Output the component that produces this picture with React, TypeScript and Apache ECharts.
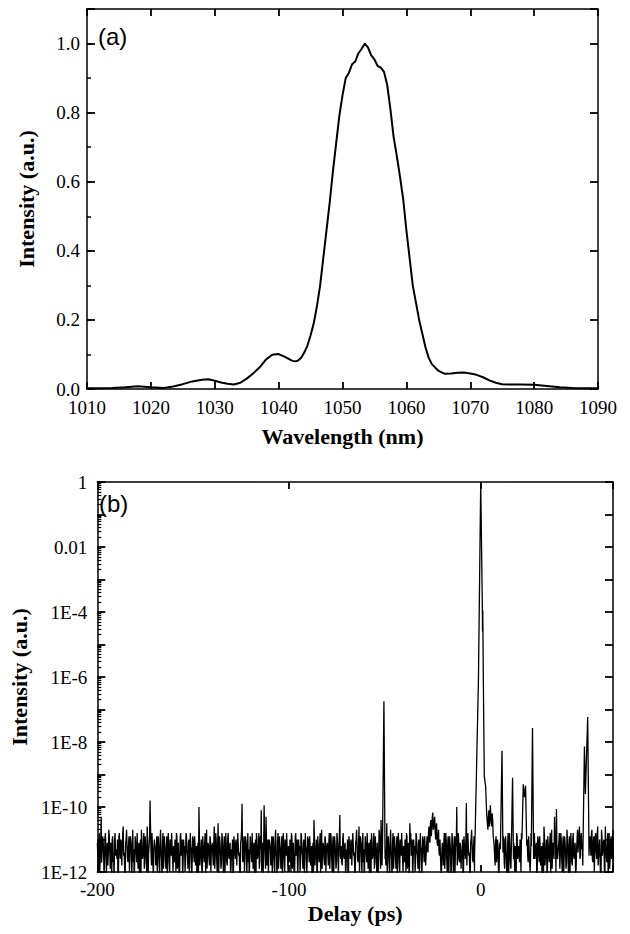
import React, { useEffect, useRef } from 'react';
import * as echarts from 'echarts';

// ---------- Panel (a): spectrum ----------
const wavelengths = [
  1010, 1012, 1014, 1016, 1018, 1020, 1022, 1023.5, 1025, 1026.5, 1028, 1029, 1030, 1031, 1032, 1033, 1034, 1035,
  1036, 1037, 1038, 1039, 1040, 1041, 1042, 1042.5, 1043, 1043.5, 1044, 1044.5, 1045, 1045.5, 1046, 1046.5, 1047,
  1047.5, 1048, 1048.5, 1049, 1049.5, 1050, 1050.5, 1051, 1051.5, 1052, 1052.5, 1053, 1053.5, 1054, 1054.5, 1055,
  1055.5, 1056, 1056.5, 1057, 1057.5, 1058, 1058.5, 1059, 1059.5, 1060, 1060.5, 1061, 1061.5, 1062, 1062.5, 1063,
  1063.5, 1064, 1065, 1066, 1067, 1068, 1069, 1070, 1071, 1072, 1073, 1074, 1075, 1076, 1078, 1080, 1082, 1084,
  1086, 1088, 1090,
];
const spectrum = [
  0.002, 0.002, 0.003, 0.005, 0.008, 0.005, 0.003, 0.007, 0.014, 0.022, 0.027, 0.028, 0.024, 0.019, 0.015, 0.013,
  0.018, 0.03, 0.045, 0.062, 0.085, 0.099, 0.101, 0.093, 0.083, 0.08, 0.082, 0.09, 0.105, 0.125, 0.155, 0.19, 0.24,
  0.3, 0.38, 0.46, 0.54, 0.63, 0.71, 0.79, 0.85, 0.9, 0.915, 0.94, 0.948, 0.972, 0.985, 1.0, 0.988, 0.966, 0.954,
  0.935, 0.93, 0.918, 0.88, 0.81, 0.73, 0.675, 0.615, 0.55, 0.46, 0.38, 0.3, 0.25, 0.2, 0.16, 0.12, 0.09, 0.072,
  0.053, 0.044, 0.045, 0.047, 0.048, 0.045, 0.041, 0.034, 0.025, 0.018, 0.014, 0.013, 0.013, 0.012, 0.009, 0.005,
  0.003, 0.002, 0.002,
];
const waveTickLabels = ['1010', '1020', '1030', '1040', '1050', '1060', '1070', '1080', '1090'];

// ---------- Panel (b): autocorrelation trace (log10 of intensity) ----------
const delayStart = -200;
const delayStep = 0.5;
// samples at -200, -199.5, ... (20 per row = 10 ps)
const noiseRows: number[][] = [
  [-11.1, -11.9, -10.8, -11.6, -10.3, -11.4, -11.0, -12.2, -10.9, -11.5, -11.2, -11.8, -10.7, -11.4, -11.1, -12.3, -10.9, -11.6, -11.0, -11.5],
  [-11.3, -11.0, -12.1, -10.8, -11.6, -11.1, -11.8, -10.6, -11.4, -12.4, -11.0, -11.2, -11.7, -10.9, -11.5, -11.1, -12.2, -10.7, -11.3, -11.6],
  [-10.9, -11.7, -11.2, -11.4, -12.5, -11.0, -10.7, -11.6, -11.3, -11.9, -10.9, -11.5, -10.6, -12.1, -11.2, -9.8, -11.4, -10.8, -11.8, -11.3],
  [-11.0, -11.8, -10.9, -11.5, -11.2, -12.2, -10.7, -11.6, -11.1, -11.9, -10.9, -11.4, -11.3, -12.4, -10.8, -11.7, -11.0, -11.5, -11.2, -12.0],
  [-11.2, -11.0, -12.0, -10.9, -11.6, -11.1, -11.8, -10.8, -11.4, -12.2, -11.0, -11.2, -11.7, -10.9, -11.5, -11.1, -12.1, -10.8, -11.3, -11.6],
  [-11.0, -11.7, -11.2, -11.5, -12.6, -11.1, -10.0, -11.8, -11.3, -11.9, -10.9, -11.5, -11.1, -12.1, -10.7, -11.4, -11.2, -11.8, -11.0, -11.3],
  [-11.1, -11.8, -10.6, -11.5, -11.0, -12.0, -10.5, -11.6, -11.1, -11.9, -10.8, -11.4, -11.3, -12.3, -10.8, -11.7, -11.0, -11.5, -11.2, -12.1],
  [-11.3, -11.0, -12.1, -10.9, -11.6, -11.1, -11.8, -10.8, -11.4, -12.4, -11.0, -9.9, -11.7, -10.9, -11.5, -11.1, -12.2, -10.8, -11.3, -11.6],
  [-10.9, -11.7, -11.2, -11.4, -12.3, -11.0, -10.8, -11.6, -11.3, -11.9, -10.9, -10.1, -11.5, -12.1, -9.95, -11.4, -10.3, -11.8, -11.0, -11.3],
  [-11.1, -11.8, -10.9, -11.5, -11.2, -12.2, -10.7, -11.6, -11.1, -11.9, -10.9, -11.4, -11.3, -12.4, -10.8, -11.7, -11.0, -11.5, -11.2, -12.0],
  [-11.2, -11.0, -12.0, -10.9, -11.6, -11.1, -11.8, -10.8, -11.4, -12.2, -11.0, -11.2, -11.7, -10.9, -11.5, -11.1, -12.1, -10.8, -11.3, -11.6],
  [-11.0, -11.7, -11.2, -11.5, -12.3, -11.1, -10.4, -11.8, -11.3, -11.9, -10.9, -11.5, -11.1, -12.1, -10.7, -11.4, -11.2, -11.8, -11.0, -11.3],
  [-11.1, -11.8, -10.8, -11.5, -11.0, -12.0, -10.9, -11.6, -11.1, -11.9, -10.8, -11.4, -11.3, -10.25, -11.6, -11.7, -11.0, -11.5, -11.2, -12.1],
  [-11.3, -11.0, -12.1, -10.9, -11.6, -11.1, -11.8, -10.8, -11.4, -12.4, -11.0, -11.2, -11.7, -10.6, -11.5, -11.1, -12.2, -10.8, -11.3, -11.6],
  [-10.9, -11.7, -11.2, -11.4, -12.3, -11.0, -10.8, -11.6, -11.3, -11.9, -10.9, -11.5, -11.1, -12.1, -10.7, -11.4, -10.4, -11.8, -11.0, -11.3],
  [-11.1, -11.8, -10.5, -11.5, -11.2, -12.2, -10.7, -11.6, -11.1, -11.9, -10.9, -11.4, -11.3, -12.4, -10.8, -11.7, -11.0, -11.5, -11.2, -12.0],
  [-11.2, -11.0, -12.0, -10.9, -11.6, -11.1, -10.5, -10.8, -11.4, -12.2, -11.0, -11.2, -11.7, -10.9, -11.5, -11.1, -12.1, -10.8, -11.3, -11.6],
  [-11.0, -11.7, -11.2, -11.5, -10.9, -11.4, -10.6, -11.1, -10.4, -10.9, -10.17, -10.6, -10.3, -11.0, -10.5, -11.2, -10.7, -11.5, -11.0, -12.1],
  [-11.1, -11.8, -10.8, -11.5, -11.0, -12.0, -10.9, -11.6, -11.1, -12.4, -10.8, -11.4, -11.3, -12.3, -10.9, -10.0, -11.6, -11.0, -11.7, -11.2],
  [-11.3, -11.0, -12.1, -10.9, -11.6, -9.88, -11.8, -10.8, -11.4, -12.4, -11.0, -11.2, -11.7, -10.9, -11.5, -11.1, -12.2, -10.8, -11.3, -11.6],
  [-11.0, -11.0, -11.0, -11.0, -11.0, -11.0, -11.0, -10.8, -10.3, -10.6, -9.95, -10.4, -10.2, -10.9, -11.2, -11.8, -10.9, -11.5, -11.2, -12.2],
  [-11.1, -11.5, -11.5, -11.0, -11.0, -11.9, -10.9, -11.4, -11.3, -12.4, -10.8, -11.7, -11.2, -11.5, -11.5, -11.5, -11.2, -12.0, -10.9, -11.6],
  [-11.2, -11.0, -12.0, -11.0, -11.0, -11.0, -11.0, -11.0, -11.0, -11.5, -10.9, -11.3, -11.6, -11.0, -11.0, -11.0, -10.8, -11.4, -11.1, -11.9],
  [-11.0, -11.7, -11.2, -11.5, -12.3, -11.1, -10.6, -11.8, -11.3, -11.9, -10.9, -11.5, -11.1, -12.1, -10.7, -11.4, -11.2, -10.3, -11.0, -10.06],
  [-11.6, -11.2, -10.8, -11.5, -11.0, -12.0, -10.9, -11.6, -11.1, -11.9, -10.7, -11.4, -11.3, -12.3, -10.8, -11.7, -11.0, -11.5, -11.2, -12.1],
  [-11.3, -10.7, -11.4, -10.6, -11.5, -10.8, -11.2, -11.0, -11.0, -11.0, -11.0, -11.0, -11.0, -11.0, -10.9, -11.5, -10.7, -11.7, -10.9, -11.4],
  [-10.8, -11.6, -10.6, -11.8, -11.0, -12.2, -10.7, -11.5, -11.1, -11.9, -10.6, -11.4, -11.2, -12.3, -10.8, -11.6, -10.9, -11.5, -10.7, -11.3],
];
// samples in between, at -199.75, -199.25, ...
const noiseMidRows: number[][] = [
  [-11.5, -11.2, -12.0, -11.0, -11.7, -10.9, -11.3, -11.6, -10.8, -12.1, -11.1, -11.4, -10.9, -11.9, -11.2, -11.0, -11.7, -12.2, -10.8, -11.4],
  [-11.6, -12.2, -10.9, -11.4, -11.0, -11.8, -10.8, -11.5, -11.9, -11.1, -10.7, -11.6, -11.2, -12.0, -10.9, -11.4, -11.1, -11.7, -12.3, -10.9],
  [-11.4, -10.8, -11.9, -11.1, -11.6, -12.2, -11.0, -11.5, -10.8, -11.7, -11.3, -12.0, -11.1, -11.4, -10.9, -10.6, -11.8, -11.2, -12.1, -11.0],
  [-11.3, -11.5, -12.1, -10.9, -11.7, -11.0, -11.4, -12.3, -10.8, -11.6, -11.2, -11.9, -10.9, -11.5, -11.1, -12.0, -11.3, -10.8, -11.6, -11.2],
  [-11.7, -11.3, -10.8, -11.9, -11.1, -12.4, -10.9, -11.5, -11.0, -11.7, -11.3, -12.0, -10.8, -11.4, -11.9, -11.0, -11.6, -11.2, -12.2, -10.9],
  [-11.4, -10.9, -11.8, -11.2, -11.6, -12.1, -10.9, -11.5, -11.0, -12.3, -11.2, -11.7, -10.8, -11.4, -11.9, -11.1, -11.6, -10.9, -12.0, -11.3],
  [-11.5, -11.1, -11.9, -10.8, -11.6, -11.2, -12.2, -10.9, -11.4, -11.7, -11.0, -12.1, -10.9, -11.5, -11.2, -11.8, -10.8, -11.6, -11.1, -11.9],
  [-11.6, -12.2, -10.9, -11.4, -11.0, -11.8, -10.8, -11.5, -11.9, -11.1, -10.7, -11.6, -11.2, -12.0, -10.9, -11.4, -11.1, -11.7, -12.3, -10.9],
  [-11.4, -10.8, -11.9, -11.1, -11.6, -12.2, -11.0, -11.5, -10.8, -11.7, -11.3, -12.0, -11.1, -11.4, -10.9, -11.9, -11.0, -11.2, -12.1, -11.0],
  [-11.3, -11.5, -12.1, -10.9, -11.7, -11.0, -11.4, -12.3, -10.8, -11.6, -11.2, -11.9, -10.9, -11.5, -11.1, -12.0, -11.3, -10.8, -11.6, -11.2],
  [-11.7, -11.3, -10.8, -11.9, -11.1, -12.4, -10.9, -11.5, -11.0, -11.7, -11.3, -12.0, -10.8, -11.4, -11.9, -11.0, -11.6, -11.2, -12.2, -10.9],
  [-11.4, -10.9, -11.8, -11.2, -11.6, -12.1, -10.9, -11.5, -11.0, -12.3, -11.2, -11.7, -10.8, -11.4, -11.9, -11.1, -11.6, -10.9, -12.0, -11.3],
  [-11.5, -11.1, -11.9, -10.8, -11.6, -11.2, -12.2, -10.9, -11.4, -11.7, -11.0, -12.1, -10.9, -11.5, -11.2, -11.8, -10.8, -11.6, -11.1, -11.9],
  [-11.6, -12.2, -10.9, -11.4, -11.0, -11.8, -10.8, -11.5, -11.9, -11.1, -10.7, -11.6, -11.2, -12.0, -10.9, -11.4, -11.1, -11.7, -12.3, -10.9],
  [-11.4, -10.8, -11.9, -11.1, -11.6, -12.2, -11.0, -11.5, -10.8, -11.7, -11.3, -12.0, -11.1, -11.4, -10.9, -11.9, -11.0, -11.2, -12.1, -11.0],
  [-11.3, -11.5, -12.1, -10.9, -11.7, -11.0, -11.4, -12.3, -10.8, -11.6, -11.2, -11.9, -10.9, -11.5, -11.1, -12.0, -11.3, -10.8, -11.6, -11.2],
  [-11.7, -11.3, -10.8, -11.9, -11.1, -12.4, -10.9, -11.5, -11.0, -11.7, -11.3, -12.0, -10.8, -11.4, -11.9, -11.0, -11.6, -11.2, -12.2, -10.9],
  [-11.4, -10.9, -11.8, -11.2, -11.3, -10.8, -11.0, -10.5, -10.9, -10.3, -10.7, -10.4, -10.8, -10.6, -11.1, -10.9, -11.4, -11.0, -12.0, -11.3],
  [-11.5, -11.1, -11.9, -10.8, -11.6, -11.2, -12.2, -10.9, -11.4, -11.7, -11.0, -12.1, -10.9, -11.5, -11.2, -11.8, -10.8, -11.6, -11.1, -11.9],
  [-11.6, -12.2, -10.9, -11.4, -11.0, -11.8, -10.8, -11.5, -11.9, -11.1, -10.7, -11.6, -11.2, -12.0, -10.9, -11.4, -11.1, -11.7, -12.3, -10.9],
  [-11.0, -11.0, -11.0, -11.0, -11.0, -11.0, -11.0, -10.7, -10.1, -10.5, -10.2, -10.6, -10.4, -11.0, -11.5, -11.1, -11.7, -11.0, -12.0, -11.3],
  [-11.3, -11.5, -12.1, -10.9, -11.7, -11.0, -11.4, -12.3, -10.8, -11.6, -11.2, -11.9, -10.9, -11.5, -11.1, -12.0, -11.3, -10.8, -11.6, -11.2],
  [-11.7, -11.3, -10.8, -11.9, -11.1, -12.4, -10.9, -11.5, -11.0, -11.7, -11.3, -12.0, -10.8, -11.4, -11.9, -11.0, -11.6, -11.2, -12.2, -10.9],
  [-11.4, -10.9, -11.8, -11.2, -11.6, -12.1, -10.9, -11.5, -11.0, -12.3, -11.2, -11.7, -10.8, -11.4, -11.9, -11.1, -11.6, -10.9, -12.0, -11.3],
  [-11.5, -11.1, -11.9, -10.8, -11.6, -11.2, -12.2, -10.9, -11.4, -11.7, -11.0, -12.1, -10.9, -11.5, -11.2, -11.8, -10.8, -11.6, -11.1, -11.9],
  [-11.0, -11.4, -10.8, -11.6, -10.9, -11.3, -11.8, -11.0, -11.0, -11.0, -11.0, -11.0, -11.0, -11.0, -11.2, -10.8, -11.6, -11.1, -12.0, -10.9],
  [-11.4, -10.9, -11.8, -11.2, -11.6, -12.1, -10.9, -11.5, -11.0, -12.3, -11.2, -11.7, -10.8, -11.4, -11.9, -11.1, -11.6, -10.9, -12.0, -11.3],
];
// Pulse peaks: [delay (ps), log10 intensity]
const peaks: number[][][] = [
  [[-51.2, -11.2], [-50.5, -6.75], [-49.9, -11.6]],
  [[-3.2, -11.4], [-2.9, -10.8], [-1.2, -6.1], [0, 0], [0.85, -3.9], [0.95, -4.6], [1.05, -3.95], [1.36, -6.1], [1.87, -9.06], [2.56, -9.37], [3.1, -10.2], [3.6, -10.6]],
  [[10.5, -11.3], [11.1, -8.27], [11.6, -11.4]],
  [[16.1, -11.2], [16.6, -9.1], [17.1, -11.6]],
  [[21.5, -11.0], [22.2, -9.3], [22.8, -9.7], [23.4, -9.35], [24.0, -11.2]],
  [[26.4, -11.2], [27.0, -7.57], [27.6, -11.6]],
  [[53.4, -11.0], [54.1, -8.14], [54.6, -9.6], [55.8, -7.23], [56.5, -11.5]],
];
const logLabels: Record<string, string> = {
  '0': '1', '-2': '0.01', '-4': '1E-4', '-6': '1E-6', '-8': '1E-8', '-10': '1E-10', '-12': '1E-12',
};

function buildTrace(): number[][] {
  const windows = peaks.map((p) => [p[0][0], p[p.length - 1][0]]);
  const pts: number[][] = [];
  const addRows = (rows: number[][], start: number) => {
    rows.flat().forEach((e, i) => {
      const x = start + i * delayStep;
      if (!windows.some(([a, b]) => x >= a && x <= b)) pts.push([x, e]);
    });
  };
  addRows(noiseRows, delayStart);
  addRows(noiseMidRows, delayStart + delayStep / 2);
  peaks.forEach((p) => p.forEach((q) => pts.push([q[0], q[1]])));
  pts.sort((a, b) => a[0] - b[0]);
  return pts.map(([x, e]) => [x, Math.pow(10, e)]);
}

const SERIF = 'Liberation Serif';
const BLACK = '#000';

export default function App() {
  const ref = useRef<HTMLDivElement>(null);
  useEffect(() => {
    if (!ref.current) return;
    const chart = echarts.init(ref.current, null, { renderer: 'svg' });
    const labelStyle = { color: BLACK, fontFamily: SERIF, fontSize: 19 };
    const nameStyle = { color: BLACK, fontFamily: SERIF, fontSize: 22, fontWeight: 'bold' as const };
    const line = { show: true, onZero: false, lineStyle: { color: BLACK, width: 1.5 } };
    const noLine = { show: false, onZero: false };
    const tick = (len: number, w = 1.8) => ({ show: true, inside: true, length: len, lineStyle: { color: BLACK, width: w } });

    const option: any = {
      animation: false,
      backgroundColor: '#fff',
      grid: [
        { left: 87, right: 32, top: 9, bottom: 545 },
        { left: 87, right: 17, top: 482, bottom: 62 },
      ],
      xAxis: [
        {
          gridIndex: 0, type: 'value', position: 'bottom', min: 1010, max: 1090, interval: 10,
          axisLine: line, axisTick: tick(7), splitLine: { show: false },
          axisLabel: {
            ...labelStyle, margin: 9,
            formatter: (v: number) => waveTickLabels.find((t) => Number(t) === Math.round(v)) ?? '',
          },
          name: 'Wavelength (nm)', nameLocation: 'middle', nameGap: 36, nameTextStyle: nameStyle,
        },
        {
          gridIndex: 0, type: 'value', position: 'top', min: 1010, max: 1090, interval: 10,
          axisLine: line, axisTick: tick(7), splitLine: { show: false }, axisLabel: { show: false },
        },
        {
          gridIndex: 1, type: 'value', position: 'bottom', min: -200, max: 69, interval: 100,
          axisLine: line, axisTick: tick(7), splitLine: { show: false },
          axisLabel: {
            ...labelStyle, margin: 8,
            formatter: (v: number) => (Math.abs(v % 100) < 1e-6 ? String(v) : ''),
          },
          name: 'Delay (ps)', nameLocation: 'middle', nameGap: 30, nameTextStyle: nameStyle,
        },
        {
          gridIndex: 1, type: 'value', position: 'top', min: -200, max: 69, interval: 100,
          axisLine: line, axisTick: tick(7), splitLine: { show: false }, axisLabel: { show: false },
        },
      ],
      yAxis: [
        // 0: panel (a) left, labels + name
        {
          gridIndex: 0, type: 'value', position: 'left', min: 0, max: 1.1, interval: 0.2,
          axisLine: line, axisTick: { show: false }, splitLine: { show: false },
          axisLabel: {
            ...labelStyle, margin: 7,
            formatter: (v: number) => (Math.abs(Math.round(v * 10) % 2) === 0 && v <= 1.0001 ? v.toFixed(1) : ''),
          },
          name: 'Intensity (a.u.)', nameLocation: 'middle', nameGap: 50, nameTextStyle: nameStyle,
        },
        // 1: panel (a) left major ticks
        {
          gridIndex: 0, type: 'value', position: 'left', min: 0, max: 1.1, interval: 0.2,
          axisLine: noLine, axisTick: tick(8), splitLine: { show: false }, axisLabel: { show: false },
        },
        // 2: panel (a) left minor ticks
        {
          gridIndex: 0, type: 'value', position: 'left', min: 0, max: 1.1, interval: 0.1,
          axisLine: noLine, axisTick: tick(4, 1.5), splitLine: { show: false }, axisLabel: { show: false },
        },
        // 3: panel (a) right
        {
          gridIndex: 0, type: 'value', position: 'right', min: 0, max: 1.1, interval: 0.2,
          axisLine: line, axisTick: tick(8), splitLine: { show: false }, axisLabel: { show: false },
        },
        // 4: panel (b) left, labels + name
        {
          gridIndex: 1, type: 'log', logBase: 10, position: 'left', min: 1e-12, max: 1, interval: 1,
          axisLine: line, axisTick: { show: false }, splitLine: { show: false },
          axisLabel: {
            ...labelStyle, margin: 10,
            formatter: (v: number) => logLabels[String(Math.round(Math.log10(v)))] ?? '',
          },
          name: 'Intensity (a.u.)', nameLocation: 'middle', nameGap: 67, nameTextStyle: nameStyle,
        },
        // 5: panel (b) left ticks (decades + log minor ticks)
        {
          gridIndex: 1, type: 'log', logBase: 10, position: 'left', min: 1e-12, max: 1, interval: 1,
          axisLine: noLine, axisTick: tick(8), splitLine: { show: false }, axisLabel: { show: false },
          minorTick: { show: true, splitNumber: 9, length: 4, lineStyle: { color: BLACK, width: 1.2 } },
        },
        // 6: panel (b) right
        {
          gridIndex: 1, type: 'log', logBase: 10, position: 'right', min: 1e-12, max: 1, interval: 1,
          axisLine: line, axisTick: tick(8), splitLine: { show: false }, axisLabel: { show: false },
        },
      ],
      graphic: [
        { type: 'text', left: 98, top: 24, style: { text: '(a)', font: '24px "Liberation Sans"', fill: BLACK } },
        { type: 'text', left: 99, top: 491, style: { text: '(b)', font: '24px "Liberation Sans"', fill: BLACK } },
      ],
      series: [
        {
          type: 'line', xAxisIndex: 0, yAxisIndex: 0, showSymbol: false, symbol: 'none',
          data: wavelengths.map((w, i) => [w, spectrum[i]]),
          lineStyle: { color: BLACK, width: 2 },
        },
        {
          type: 'line', xAxisIndex: 2, yAxisIndex: 4, showSymbol: false, symbol: 'none', clip: true,
          data: buildTrace(),
          lineStyle: { color: BLACK, width: 1.3 },
        },
      ],
    };
    chart.setOption(option);
    return () => chart.dispose();
  }, []);
  return (
    <div
      ref={ref}
      style={{ position: 'absolute', left: 0, top: 0, width: 630, height: 934, background: '#fff' }}
    />
  );
}
